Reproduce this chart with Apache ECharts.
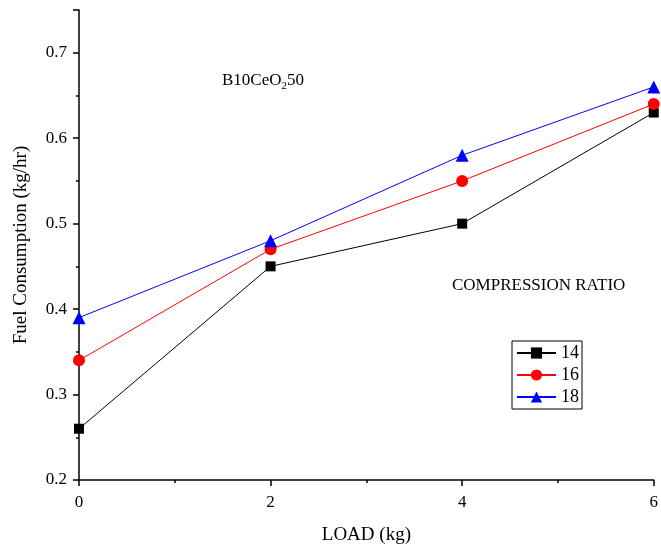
<!DOCTYPE html>
<html><head><meta charset="utf-8">
<script src="https://cdn.jsdelivr.net/npm/echarts@6/dist/echarts.min.js"></script>
<style>html,body{margin:0;padding:0;background:#fff}#c{width:661px;height:550px}</style>
</head><body><div id="c"></div>
<script>
const loads = [0, 2, 4, 6];
const cr14 = [0.26, 0.45, 0.50, 0.63];
const cr16 = [0.34, 0.47, 0.55, 0.64];
const cr18 = [0.39, 0.48, 0.58, 0.66];
const seriesNames = ['14', '16', '18'];
const F = 'Liberation Serif, Times New Roman, serif';
const chart = echarts.init(document.getElementById('c'));
function mk(name, vals, color, symbol, size) {
  return { name, type: 'line', data: loads.map((x, i) => [x, vals[i]]), symbol, symbolSize: size,
    lineStyle: { color, width: 1 }, itemStyle: { color }, z: 3 };
}
chart.setOption({
  animation: false,
  grid: { left: 79, right: 5, top: 10, bottom: 69 },
  xAxis: { type: 'value', min: 0, max: 6, interval: 2,
    name: 'LOAD (kg)', nameLocation: 'middle', nameGap: 46,
    nameTextStyle: { fontFamily: F, fontSize: 19, color: '#000' },
    axisLine: { lineStyle: { color: '#000', width: 1.5 } },
    axisTick: { show: true, inside: false, length: 6, lineStyle: { color: '#000', width: 1.5 } },
    minorTick: { show: true, splitNumber: 2, length: 3, lineStyle: { color: '#000', width: 1.5 } },
    axisLabel: { fontFamily: F, fontSize: 17, color: '#000', margin: 14 },
    splitLine: { show: false } },
  yAxis: { type: 'value', min: 0.2, max: 0.75, interval: 0.1,
    name: 'Fuel Consumption (kg/hr)', nameLocation: 'middle', nameGap: 48,
    nameTextStyle: { fontFamily: F, fontSize: 19, color: '#000' },
    axisLine: { show: true, lineStyle: { color: '#000', width: 1.5 } },
    axisTick: { show: true, inside: false, length: 6, lineStyle: { color: '#000', width: 1.5 } },
    minorTick: { show: true, splitNumber: 2, length: 3, lineStyle: { color: '#000', width: 1.5 } },
    axisLabel: { fontFamily: F, fontSize: 17, color: '#000', margin: 12, showMaxLabel: false,
      formatter: v => v.toFixed(1) },
    splitLine: { show: false } },
  legend: { orient: 'vertical', left: 512, top: 341, data: seriesNames,
    itemWidth: 39, itemHeight: 14, itemGap: 4, padding: [3, 3, 3, 4],
    borderColor: '#000', borderWidth: 1,
    textStyle: { fontFamily: F, fontSize: 18, color: '#000' } },
  graphic: [
    { type: 'text', left: 222, top: 72, style: {
      text: '{a|B10CeO}{s|2}{a|50}',
      rich: { a: { fontFamily: F, fontSize: 17, fill: '#000' },
              s: { fontFamily: F, fontSize: 11, fill: '#000', padding: [11, 0, 0, 0] } } } },
    { type: 'text', left: 452, top: 277, style: { text: 'COMPRESSION RATIO',
      fontFamily: F, fontSize: 17, fill: '#000' } }
  ],
  series: [
    mk('14', cr14, '#000000', 'rect', 10),
    mk('16', cr16, '#ff0000', 'circle', 12),
    mk('18', cr18, '#0000ff', 'triangle', 13)
  ]
});
</script></body></html>
